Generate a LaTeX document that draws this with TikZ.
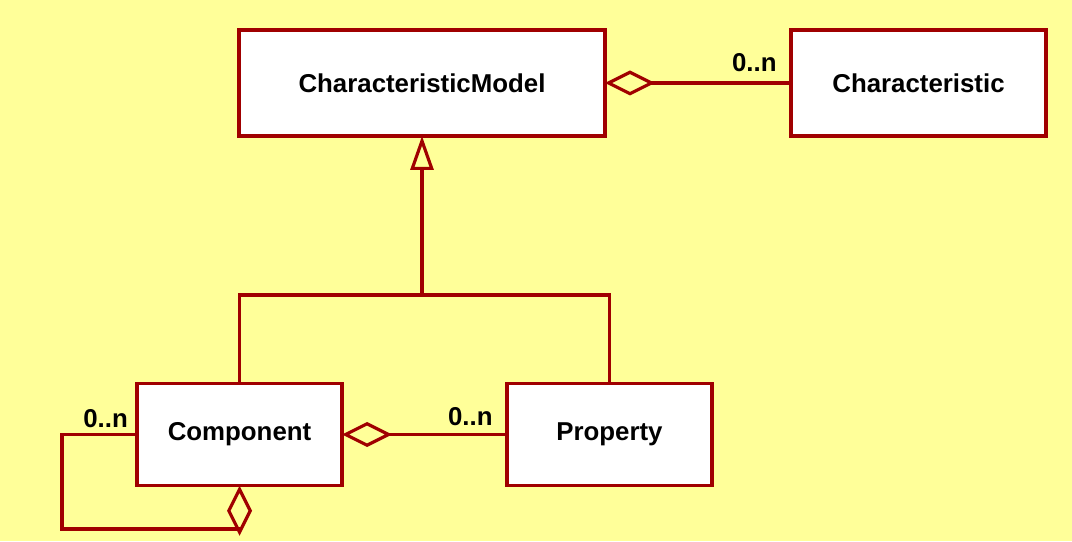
\documentclass[tikz,border=0pt]{standalone}
\usepackage{fontspec}
\setmainfont{Liberation Sans}
\usetikzlibrary{arrows.meta,positioning}

\definecolor{umlred}{HTML}{A00000}
\definecolor{umlbg}{HTML}{FFFF99}

\tikzset{
    classbox/.style={draw=umlred, fill=white, line width=1.8pt, outer sep=0pt, minimum height=2.05cm,
        font=\fontsize{14.7}{17}\selectfont\bfseries},
    link/.style={draw=umlred, line width=1.8pt},
    agg/.style={link, {Diamond[open, length=1.0cm, width=0.5cm, line width=1.8pt]}-},
    inherit/.style={link, -{Triangle[open, length=0.68cm, width=0.46cm, line width=1.8pt]}},
    mult/.style={inner sep=0pt, font=\fontsize{14.7}{17}\selectfont\bfseries}
}

\begin{document}
\begin{tikzpicture}
    \fill[umlbg] (0,0) rectangle (21.44,10.82);
    \useasboundingbox (0,0) rectangle (21.44,10.82);

    % Classes
    \node[classbox, minimum width=7.32cm, minimum height=2.12cm] (model) at (8.44,9.16) {CharacteristicModel};
    \node[classbox, minimum width=5.10cm, minimum height=2.12cm] (charac) at (18.37,9.16) {Characteristic};
    \node[classbox, minimum width=4.10cm] (comp) at (4.79,2.13) {Component};
    \node[classbox, minimum width=4.10cm] (prop) at (12.19,2.13) {Property};

    % Helper points
    \coordinate (bus) at (8.44,4.92);
    \coordinate (loop) at (1.24,0.24);

    % Aggregation CharacteristicModel - Characteristic
    \draw[agg] (model.east) -- (charac.west);
    \node[mult, above left=6pt and 8pt of charac.west] (m1) {0..n};

    % Generalisation
    \draw[inherit] (bus) -- (model.south);
    \draw[link] (comp.north) |- (bus) -| (prop.north);

    % Aggregation Component - Property
    \draw[agg] (comp.east) -- (prop.west);
    \node[mult, above left=4.5pt and 8pt of prop.west] (m2) {0..n};

    % Self aggregation of Component
    \draw[agg] (comp.south) -- (comp.south |- loop) -- (loop) |- (comp.west);
    \node[mult, above left=3.5pt and 5pt of comp.west] (m3) {0..n};
\end{tikzpicture}
\end{document}
